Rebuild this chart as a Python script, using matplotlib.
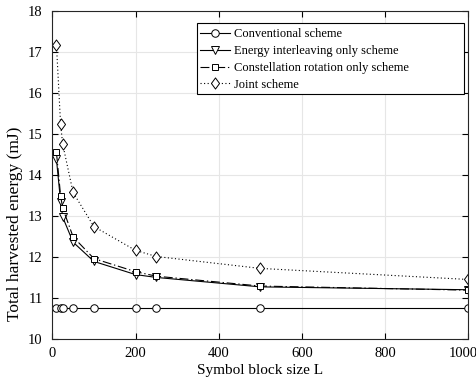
import matplotlib
matplotlib.use("Agg")
import matplotlib.pyplot as plt
import matplotlib.transforms as mtransforms
from matplotlib.path import Path
from matplotlib.patches import Rectangle

plt.rcParams['font.family'] = ['Liberation Serif', 'DejaVu Serif']

L = [10, 20, 25, 50, 100, 200, 250, 500, 1000]
conventional = [10.75, 10.75, 10.75, 10.75, 10.75, 10.75, 10.75, 10.75, 10.75]
energy_interleaving = [14.38, 13.35, 12.97, 12.36, 11.89, 11.57, 11.50, 11.27, 11.20]
constellation_rotation = [14.55, 13.49, 13.19, 12.49, 11.96, 11.64, 11.53, 11.29, 11.19]
joint = [17.17, 15.23, 14.75, 13.57, 12.74, 12.16, 12.01, 11.72, 11.45]

labels = ['Conventional scheme', 'Energy interleaving only scheme',
          'Constellation rotation only scheme', 'Joint scheme']
xticks = [0, 200, 400, 600, 800, 1000]
yticks = [10, 11, 12, 13, 14, 15, 16, 17, 18]

diamond = Path([(0, 1), (0.73, 0), (0, -1), (-0.73, 0), (0, 1)],
               [Path.MOVETO, Path.LINETO, Path.LINETO, Path.LINETO, Path.CLOSEPOLY])

fig = plt.figure(figsize=(4.77, 3.82), dpi=100)
ax = fig.add_axes([0.1096, 0.1126, 0.8724, 0.8594])

base = dict(markerfacecolor='white', markeredgecolor='black',
            markeredgewidth=0.7, color='black', linewidth=0.8)
ax.plot(L, conventional, linestyle='-', marker='o', markersize=5.4, label=labels[0], **base)
ax.plot(L, energy_interleaving, linestyle='-', marker='v', markersize=6.2, label=labels[1], **base)
ax.plot(L, constellation_rotation, linestyle=(0, (8, 2.5, 1.2, 2.5)), marker='s', markersize=4.8,
        label=labels[2], **base)
ax.plot(L, joint, linestyle=(0, (1, 2.2)), marker=diamond, markersize=8, label=labels[3], **base)

ax.set_xlim(0, 1000)
ax.set_ylim(10, 18)
ax.set_xticks(xticks)
ax.set_yticks(yticks)
ax.grid(True, color='#e6e6e6', linewidth=0.8)
ax.set_axisbelow(True)
ax.tick_params(direction='in', top=True, right=True, labelsize=10.5, length=4, width=0.8)
ax.tick_params(axis='y', pad=7)
ax.tick_params(axis='x', pad=6)
for s in ax.spines.values():
    s.set_linewidth(0.8)
    s.set_color('#262626')

# last x tick label shifted left as in the reference
fig.canvas.draw()
lbl = ax.get_xticklabels()[-1]
lbl.set_transform(lbl.get_transform() + mtransforms.ScaledTranslation(-5 / 100, 0, fig.dpi_scale_trans))

ax.set_xlabel('Symbol block size L', fontsize=11, labelpad=3)
ax.set_ylabel('Total harvested energy (mJ)', fontsize=12.5)
ax.yaxis.set_label_coords(-0.07, 0.35)

leg = ax.legend(loc='upper left', bbox_to_anchor=(0.355, 0.946), fontsize=9, frameon=False,
                handlelength=2.4, handletextpad=0.3, borderpad=0.0,
                labelspacing=0.38, borderaxespad=0.0)
ax.add_patch(Rectangle((0.348, 0.746), 0.642, 0.2165, transform=ax.transAxes,
                       facecolor='white', edgecolor='black', linewidth=0.8, zorder=4.5))
leg.set_zorder(5)

fig.savefig('out.png', dpi=100)
